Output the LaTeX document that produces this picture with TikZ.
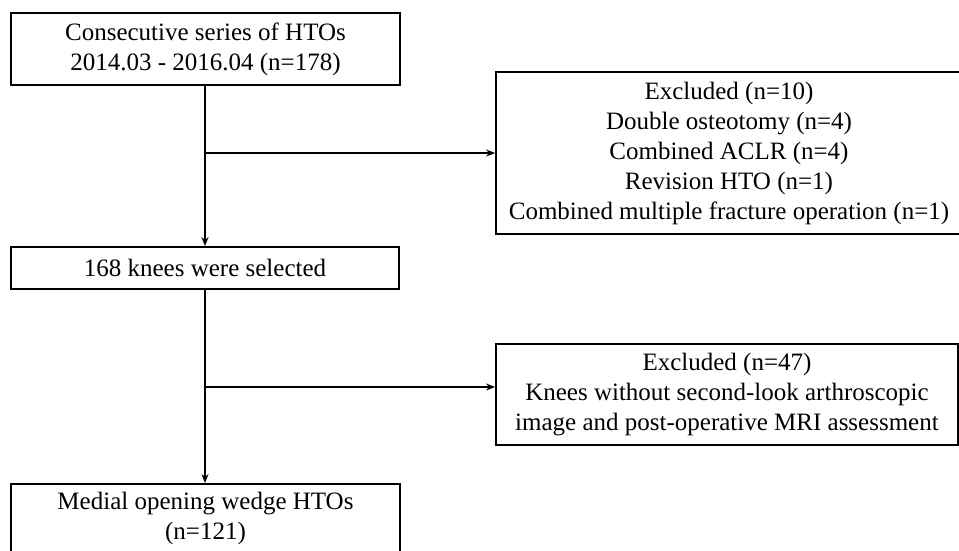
\documentclass[tikz,border=0pt]{standalone}
\usepackage{fontspec}
\setmainfont{Liberation Serif}
\usetikzlibrary{positioning,arrows.meta}

\begin{document}
\begin{tikzpicture}[x=1pt,y=-1pt,font=\fontsize{25}{30}\selectfont,>={Stealth[length=9pt,width=7pt]},
  b/.style={draw,line width=1.8pt,align=center,inner sep=0pt},
  link/.style={line width=1.5pt}]
  \useasboundingbox (0,0) rectangle (959,551);
  \clip (0,0) rectangle (959,551);
  \node[b,minimum width=389pt,minimum height=72pt] (series) at (205.5,49) {Consecutive series of HTOs\\ 2014.03 - 2016.04 (n=178)};
  \node[b,minimum width=466pt,minimum height=162pt] (excl1) at (729,153) {Excluded (n=10)\\ Double osteotomy (n=4)\\ Combined ACLR (n=4)\\ Revision HTO (n=1)\\ Combined multiple fracture operation (n=1)};
  \node[b,minimum width=388pt,minimum height=42pt] (sel) at (205,268) {168 knees were selected};
  \node[b,minimum width=462pt,minimum height=101pt] (excl2) at (727,394.5) {Excluded (n=47)\\ Knees without second-look arthroscopic\\ image and post-operative MRI assessment};
  \node[b,anchor=north,minimum width=389pt,inner ysep=8pt,text depth=60pt] (wedge) at (205.5,483) {Medial opening wedge HTOs\\ (n=121)};
  \coordinate (br1) at (205,153);
  \coordinate (br2) at (205,387);
  \draw[link,->] (series.south -| br1) -- (sel.north -| br1);
  \draw[link,->] (br1) -- (br1 -| excl1.west);
  \draw[link,->] (sel.south -| br2) -- (wedge.north -| br2);
  \draw[link,->] (br2) -- (br2 -| excl2.west);
\end{tikzpicture}
\end{document}
